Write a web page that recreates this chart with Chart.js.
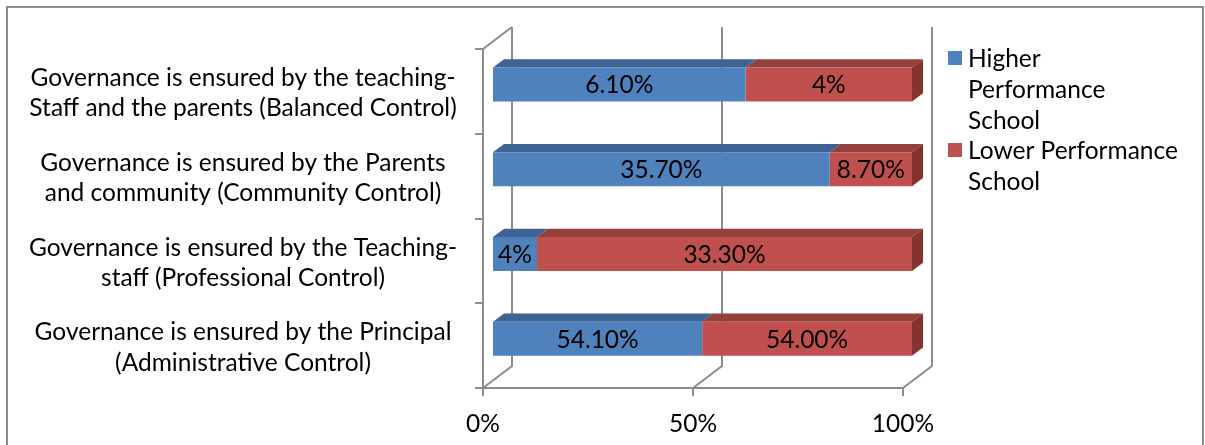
<!DOCTYPE html>
<html>
<head>
<meta charset="utf-8">
<title>Governance control by school performance</title>
<script src="https://cdn.jsdelivr.net/npm/chart.js@4.4.1/dist/chart.umd.min.js"></script>
<style>
    html, body { margin: 0; padding: 0; background: #fff; }
    canvas { display: block; }
</style>
</head>
<body>
<canvas id="governanceChart" width="1205" height="445"></canvas>
<script>
    // categories, listed top to bottom
    const controlTypes = [
        ['Governance is ensured by the teaching-', 'Staff and the parents (Balanced Control)'],
        ['Governance is ensured by the Parents', 'and community (Community Control)'],
        ['Governance is ensured by the Teaching-', 'staff (Professional Control)'],
        ['Governance is ensured by the Principal', '(Administrative Control)']
    ];
    const higherPerf = [6.1, 35.7, 4, 54.1];
    const lowerPerf = [4, 8.7, 33.3, 54.0];
    // decimals shown in the bar labels
    const higherDecimals = [2, 2, 0, 2];
    const lowerDecimals = [0, 2, 2, 2];

    const seriesNames = ['Higher Performance School', 'Lower Performance School'];
    const legendLines = [['Higher', 'Performance', 'School'], ['Lower Performance', 'School']];
    const seriesColors = ['#4F81BD', '#C0504D'];
    const topColors = ['#3D6494', '#94403D'];
    const sideColors = ['#345680', '#86322F'];
    const xTicks = [0, 50, 100];

    const FONT = 'Lato, "Noto Sans", sans-serif';
    const FONT_SIZE = 24.5;
    const GRID = '#8c8c8c';
    // depth of the plot box and where the bars sit inside it
    const DEPTH = { x: 29, y: -22 };
    const BAR_FRONT = 0.31;
    const BAR_DEPTH = 0.38;

    // 100% stacked: each row is split into shares of its total
    const share = (a, b) => a.map((v, i) => v / (v + b[i]) * 100);

    const depthPlugin = {
        id: 'depth3d',
        beforeDraw(chart) {
            const ctx = chart.ctx;
            ctx.save();
            ctx.fillStyle = '#fff';
            ctx.fillRect(0, 0, chart.width, chart.height);
            ctx.strokeStyle = GRID;
            ctx.lineWidth = 2;
            ctx.strokeRect(7, 7, 1196, 480);
            ctx.restore();
        },
        beforeDatasetsDraw(chart) {
            const ctx = chart.ctx;
            const area = chart.chartArea;
            const xs = chart.scales.x;
            ctx.save();
            ctx.strokeStyle = GRID;
            ctx.lineWidth = 2;
            ctx.beginPath();
            // top edge of the side wall
            ctx.moveTo(area.left, area.top);
            ctx.lineTo(area.left + DEPTH.x, area.top + DEPTH.y);
            // floor diagonals and back wall gridlines
            xTicks.forEach(v => {
                const px = xs.getPixelForValue(v);
                ctx.moveTo(px, area.bottom);
                ctx.lineTo(px + DEPTH.x, area.bottom + DEPTH.y);
                ctx.lineTo(px + DEPTH.x, area.top + DEPTH.y);
            });
            ctx.stroke();
            ctx.restore();

            // bars live a bit behind the front plane
            ctx.save();
            ctx.translate(DEPTH.x * BAR_FRONT, DEPTH.y * BAR_FRONT);
            const dx = DEPTH.x * BAR_DEPTH, dy = DEPTH.y * BAR_DEPTH;
            const last = chart.data.datasets.length - 1;
            chart.data.datasets.forEach((ds, di) => {
                chart.getDatasetMeta(di).data.forEach(bar => {
                    const top = bar.y - bar.height / 2;
                    const bottom = bar.y + bar.height / 2;
                    ctx.fillStyle = topColors[di];
                    ctx.beginPath();
                    ctx.moveTo(bar.base, top);
                    ctx.lineTo(bar.x, top);
                    ctx.lineTo(bar.x + dx, top + dy);
                    ctx.lineTo(bar.base + dx, top + dy);
                    ctx.closePath();
                    ctx.fill();
                    if (di === last) {
                        ctx.fillStyle = sideColors[di];
                        ctx.beginPath();
                        ctx.moveTo(bar.x, top);
                        ctx.lineTo(bar.x + dx, top + dy);
                        ctx.lineTo(bar.x + dx, bottom + dy);
                        ctx.lineTo(bar.x, bottom);
                        ctx.closePath();
                        ctx.fill();
                    }
                });
            });
        },
        afterDatasetsDraw(chart) {
            const ctx = chart.ctx;
            const raw = [higherPerf, lowerPerf];
            const dec = [higherDecimals, lowerDecimals];
            ctx.fillStyle = '#000';
            ctx.font = FONT_SIZE + 'px ' + FONT;
            ctx.textAlign = 'center';
            ctx.textBaseline = 'middle';
            chart.data.datasets.forEach((ds, di) => {
                chart.getDatasetMeta(di).data.forEach((bar, i) => {
                    const txt = raw[di][i].toFixed(dec[di][i]) + '%';
                    ctx.fillText(txt, (bar.base + bar.x) / 2, bar.y + 1);
                });
            });
            ctx.restore();
        },
        afterDraw(chart) {
            const ctx = chart.ctx;
            ctx.save();
            ctx.font = FONT_SIZE + 'px ' + FONT;
            ctx.textBaseline = 'middle';
            ctx.textAlign = 'left';
            let y = 58;
            legendLines.forEach((lines, si) => {
                ctx.fillStyle = seriesColors[si];
                ctx.fillRect(948, y - 7, 14, 14);
                ctx.fillStyle = '#000';
                lines.forEach(line => {
                    ctx.fillText(line, 968, y + 1);
                    y += 31;
                });
                y -= 1;
            });
            ctx.restore();
        }
    };

    new Chart(document.getElementById('governanceChart'), {
        type: 'bar',
        data: {
            labels: controlTypes,
            datasets: [
                {
                    label: seriesNames[0],
                    data: share(higherPerf, lowerPerf),
                    backgroundColor: seriesColors[0]
                },
                {
                    label: seriesNames[1],
                    data: share(lowerPerf, higherPerf),
                    backgroundColor: seriesColors[1]
                }
            ]
        },
        options: {
            indexAxis: 'y',
            responsive: false,
            devicePixelRatio: 1,
            animation: false,
            datasets: {
                bar: { barPercentage: 0.4, categoryPercentage: 1.0, borderWidth: 0, clip: false }
            },
            layout: { padding: { top: 49, right: 302, bottom: 0, left: 0 } },
            scales: {
                x: {
                    stacked: true,
                    min: 0,
                    max: 100,
                    afterFit: s => { s.height = 57; },
                    afterBuildTicks: s => { s.ticks = xTicks.map(v => ({ value: v })); },
                    ticks: {
                        callback: v => v + '%',
                        color: '#000',
                        font: { family: FONT, size: FONT_SIZE },
                        padding: 13,
                        maxRotation: 0
                    },
                    grid: { drawOnChartArea: false, drawTicks: true, tickLength: 8, color: GRID, lineWidth: 2 },
                    border: { display: true, color: GRID, width: 2 }
                },
                y: {
                    stacked: true,
                    afterFit: s => { s.width = 483; },
                    ticks: {
                        crossAlign: 'center',
                        color: '#000',
                        font: { family: FONT, size: FONT_SIZE, lineHeight: 1.23 },
                        padding: 18,
                        labelOffset: 2
                    },
                    grid: { drawOnChartArea: false, drawTicks: true, tickLength: 8, color: GRID, lineWidth: 2, offset: true },
                    border: { display: true, color: GRID, width: 2 }
                }
            },
            plugins: {
                legend: { display: false },
                tooltip: { enabled: false }
            }
        },
        plugins: [depthPlugin]
    });
</script>
</body>
</html>
